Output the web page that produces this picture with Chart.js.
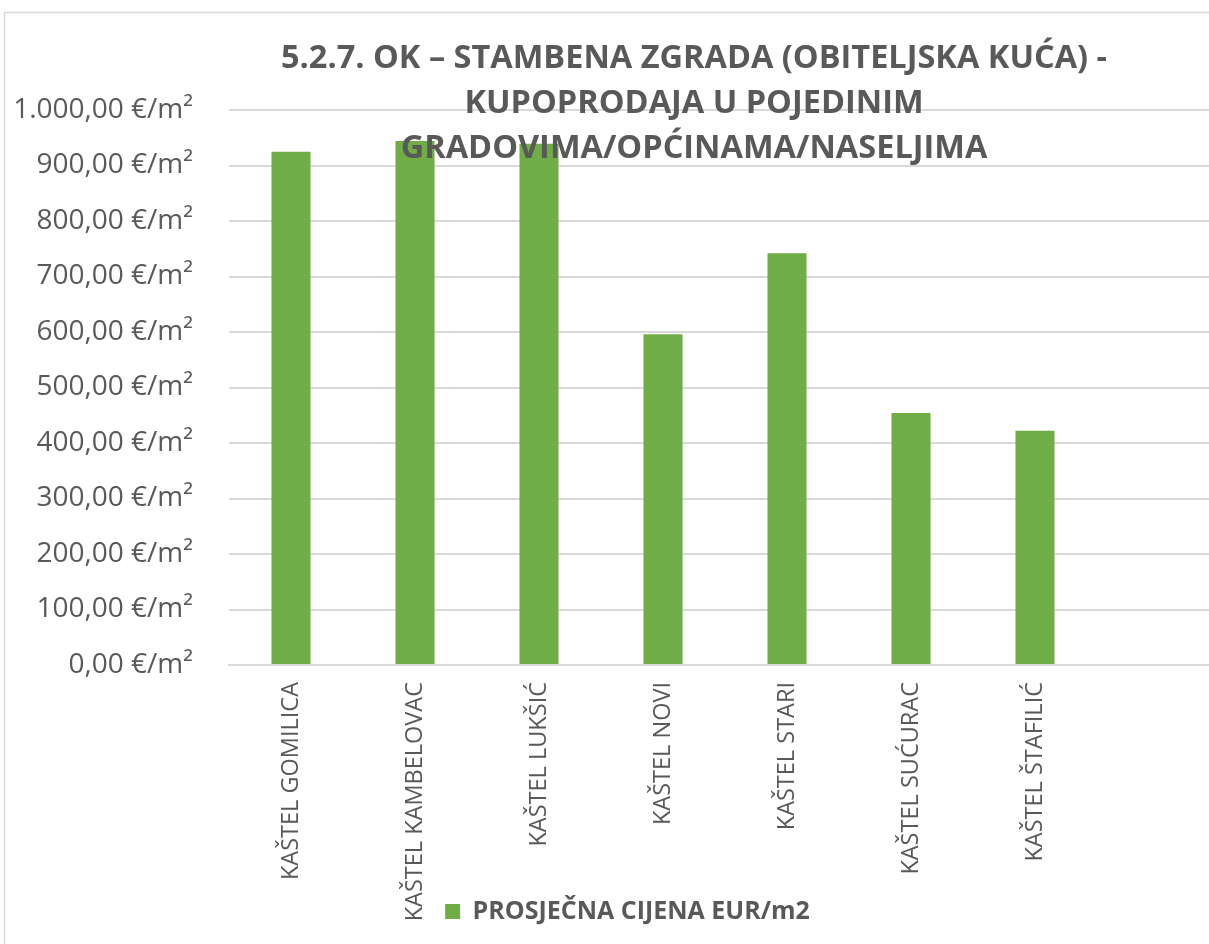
<!DOCTYPE html>
<html>
<head>
<meta charset="utf-8">
<script src="https://cdn.jsdelivr.net/npm/chart.js@4/dist/chart.umd.min.js"></script>
<style>
  html, body { margin: 0; padding: 0; background: #fff; overflow: hidden; }
  #priceChart { display: block; }
</style>
</head>
<body>
<canvas id="priceChart" width="1260" height="944"></canvas>
<script>
const ctx = document.getElementById("priceChart");

// data
const places = [
  "KAŠTEL GOMILICA",
  "KAŠTEL KAMBELOVAC",
  "KAŠTEL LUKŠIĆ",
  "KAŠTEL NOVI",
  "KAŠTEL STARI",
  "KAŠTEL SUĆURAC",
  "KAŠTEL ŠTAFILIĆ",
  "",
];
const avgPrice = [925, 944, 939, 596, 742, 454, 422, null];
const seriesName = "PROSJEČNA CIJENA EUR/m2";
const titleLines = [
  "5.2.7. OK – STAMBENA ZGRADA (OBITELJSKA KUĆA) -",
  "KUPOPRODAJA U POJEDINIM",
  "GRADOVIMA/OPĆINAMA/NASELJIMA",
];

const grey = "#595959";
const gridGrey = "#d9d9d9";

// 1000 -> "1.000,00 €/m²"
const fmtEur = (v) => {
  const whole = Math.round(v).toString().replace(/\B(?=(\d{3})+(?!\d))/g, ".");
  return whole + ",00 €/m²";
};

// let tick labels spill outside their axis box (like Excel does)
const noLabelClip = (scale) => {
  scale._computeLabelArea = () => undefined;
};

const frameAndTitle = {
  id: "frameAndTitle",
  beforeDraw(chart) {
    const c = chart.ctx;
    c.save();
    c.strokeStyle = gridGrey;
    c.lineWidth = 1.5;
    c.strokeRect(4.5, 12.5, 2000, 2000);
    c.restore();
  },
  afterDraw(chart) {
    const c = chart.ctx;
    c.save();
    c.fillStyle = grey;
    c.font = "bold 32.5px 'Open Sans'";
    c.textAlign = "center";
    c.textBaseline = "middle";
    titleLines.forEach((line, i) => {
      c.fillText(line, 694, 59 + i * 45);
    });
    c.restore();
  },
};

new Chart(ctx, {
  type: "bar",
  data: {
    labels: places,
    datasets: [
      {
        label: seriesName,
        data: avgPrice,
        backgroundColor: "#70ad47",
        borderWidth: 0,
        categoryPercentage: 1,
        barPercentage: 0.315,
      },
    ],
  },
  options: {
    responsive: false,
    animation: false,
    layout: {
      padding: { top: 110, left: 34, right: 39, bottom: 10 },
    },
    plugins: {
      title: { display: false },
      tooltip: { enabled: false },
      legend: {
        position: "bottom",
        labels: {
          boxWidth: 15,
          boxHeight: 15,
          padding: 10,
          color: grey,
          font: { family: "'Open Sans'", size: 25, weight: "bold" },
        },
      },
    },
    scales: {
      x: {
        grid: { display: false, drawTicks: false },
        border: { display: true, color: gridGrey, width: 2 },
        ticks: {
          color: grey,
          font: { family: "'Open Sans'", size: 23.5 },
          minRotation: 90,
          maxRotation: 90,
          autoSkip: false,
          padding: 17,
        },
        afterFit(scale) {
          scale.height = 224;
          noLabelClip(scale);
        },
      },
      y: {
        min: 0,
        max: 1000,
        grid: { color: gridGrey, lineWidth: 2, drawTicks: false },
        border: { display: false },
        ticks: {
          stepSize: 100,
          color: grey,
          padding: 36,
          font: { family: "'Open Sans'", size: 28 },
          callback: (v) => fmtEur(v),
        },
        afterFit(scale) {
          scale.width = 195;
          noLabelClip(scale);
        },
      },
    },
  },
  plugins: [frameAndTitle],
});
</script>
</body>
</html>
